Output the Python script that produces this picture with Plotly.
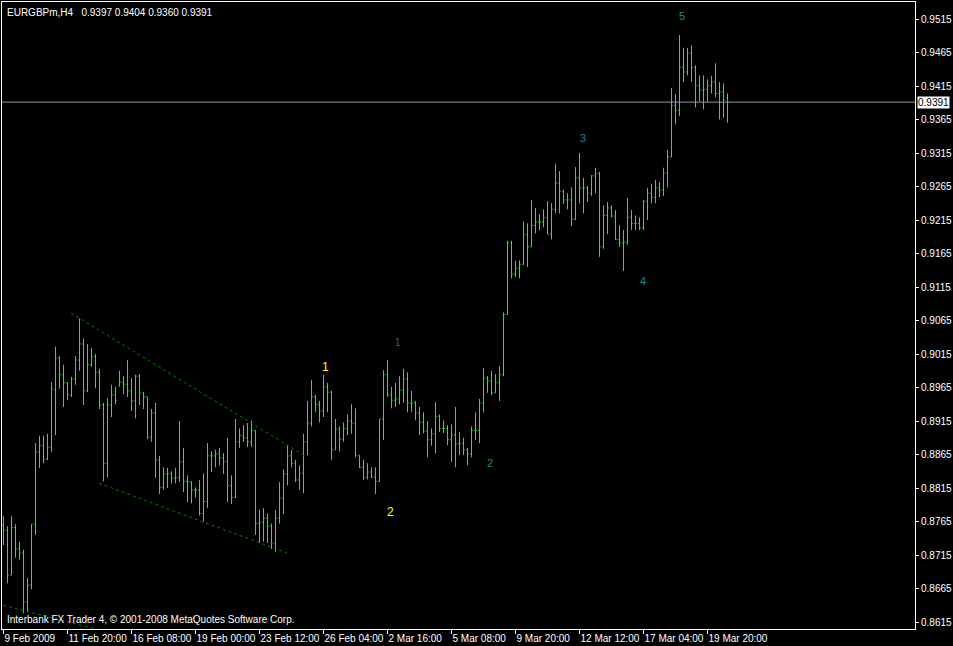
import plotly.graph_objects as go

# ---------------- data (EURGBPm, H4 bars, index 0 = 9 Feb 2009 00:00) ----------------
opens = [0.8760, 0.8752, 0.8685, 0.8756, 0.8724, 0.8718, 0.8645, 0.8670, 0.8761, 0.8869,
         0.8878, 0.8858, 0.8876, 0.8961, 0.9009, 0.8984, 0.8972, 0.8954, 0.8978, 0.9006,
         0.9030, 0.8960, 0.8999, 0.9011, 0.8988, 0.8939, 0.8852, 0.8939, 0.8954, 0.8967,
         0.8973, 0.8970, 0.8960, 0.8945, 0.8982, 0.8957, 0.8951, 0.8891, 0.8927, 0.8857,
         0.8816, 0.8836, 0.8837, 0.8830, 0.8831, 0.8854, 0.8825, 0.8824, 0.8812, 0.8812,
         0.8777, 0.8795, 0.8863, 0.8863, 0.8866, 0.8860, 0.8855, 0.8819, 0.8801, 0.8884,
         0.8893, 0.8890, 0.8884, 0.8901, 0.8762, 0.8764, 0.8770, 0.8758, 0.8733, 0.8770,
         0.8800, 0.8836, 0.8863, 0.8852, 0.8827, 0.8837, 0.8884, 0.8912, 0.8951, 0.8940,
         0.8930, 0.8966, 0.8958, 0.8872, 0.8903, 0.8888, 0.8904, 0.8915, 0.8912, 0.8864,
         0.8846, 0.8831, 0.8839, 0.8831, 0.8825, 0.8918, 0.8984, 0.8954, 0.8946, 0.8948,
         0.8961, 0.8978, 0.8942, 0.8942, 0.8927, 0.8913, 0.8900, 0.8887, 0.8896, 0.8922,
         0.8904, 0.8904, 0.8887, 0.8894, 0.8881, 0.8882, 0.8872, 0.8866, 0.8901, 0.8901,
         0.8942, 0.8979, 0.8975, 0.8957, 0.8972, 0.8984, 0.9074, 0.9181, 0.9134, 0.9143,
         0.9149, 0.9193, 0.9175, 0.9207, 0.9212, 0.9212, 0.9219, 0.9194, 0.9231, 0.9270,
         0.9258, 0.9245, 0.9245, 0.9216, 0.9278, 0.9263, 0.9263, 0.9255, 0.9281, 0.9284,
         0.9175, 0.9222, 0.9233, 0.9221, 0.9186, 0.9181, 0.9182, 0.9219, 0.9210, 0.9210,
         0.9203, 0.9243, 0.9255, 0.9249, 0.9263, 0.9260, 0.9285, 0.9309, 0.9386, 0.9379,
         0.9443, 0.9436, 0.9464, 0.9443, 0.9416, 0.9409, 0.9410, 0.9416, 0.9421, 0.9404,
         0.9406, 0.9397]

highs = [0.8773, 0.8758, 0.8773, 0.8761, 0.8735, 0.8723, 0.8681, 0.8761, 0.8882, 0.8893,
         0.8893, 0.8896, 0.8973, 0.9026, 0.9012, 0.8999, 0.8973, 0.8981, 0.9012, 0.9068,
         0.9038, 0.9030, 0.9024, 0.9015, 0.8993, 0.8942, 0.8949, 0.8969, 0.8966, 0.8990,
         0.8982, 0.9006, 0.8979, 0.8984, 0.8985, 0.8958, 0.8951, 0.8933, 0.8942, 0.8863,
         0.8846, 0.8845, 0.8840, 0.8845, 0.8915, 0.8875, 0.8834, 0.8825, 0.8816, 0.8827,
         0.8837, 0.8882, 0.8870, 0.8872, 0.8875, 0.8867, 0.8890, 0.8834, 0.8918, 0.8904,
         0.8909, 0.8912, 0.8916, 0.8901, 0.8783, 0.8785, 0.8777, 0.8762, 0.8782, 0.8824,
         0.8843, 0.8879, 0.8872, 0.8857, 0.8849, 0.8896, 0.8945, 0.8976, 0.8954, 0.8945,
         0.8984, 0.8972, 0.8960, 0.8918, 0.8907, 0.8913, 0.8925, 0.8940, 0.8934, 0.8864,
         0.8857, 0.8852, 0.8846, 0.8846, 0.8918, 0.8991, 0.9006, 0.8966, 0.8972, 0.8982,
         0.8993, 0.8988, 0.8960, 0.8945, 0.8936, 0.8928, 0.8915, 0.8904, 0.8943, 0.8925,
         0.8916, 0.8909, 0.8910, 0.8936, 0.8899, 0.8890, 0.8875, 0.8907, 0.8928, 0.8948,
         0.8994, 0.8982, 0.8990, 0.8985, 0.8997, 0.9077, 0.9184, 0.9184, 0.9154, 0.9155,
         0.9213, 0.9210, 0.9245, 0.9233, 0.9224, 0.9231, 0.9243, 0.9240, 0.9299, 0.9288,
         0.9260, 0.9255, 0.9264, 0.9294, 0.9315, 0.9278, 0.9266, 0.9282, 0.9293, 0.9287,
         0.9237, 0.9242, 0.9237, 0.9230, 0.9207, 0.9200, 0.9248, 0.9230, 0.9222, 0.9219,
         0.9245, 0.9263, 0.9269, 0.9275, 0.9272, 0.9293, 0.9320, 0.9412, 0.9403, 0.9491,
         0.9472, 0.9472, 0.9476, 0.9446, 0.9431, 0.9431, 0.9425, 0.9430, 0.9449, 0.9421,
         0.9419, 0.9404]

lows = [0.8730, 0.8673, 0.8685, 0.8711, 0.8708, 0.8628, 0.8630, 0.8664, 0.8745, 0.8845,
        0.8852, 0.8857, 0.8869, 0.8894, 0.8963, 0.8936, 0.8946, 0.8951, 0.8969, 0.8990,
        0.8939, 0.8958, 0.8996, 0.8964, 0.8933, 0.8825, 0.8831, 0.8921, 0.8940, 0.8967,
        0.8955, 0.8951, 0.8930, 0.8919, 0.8939, 0.8933, 0.8888, 0.8884, 0.8830, 0.8806,
        0.8813, 0.8815, 0.8822, 0.8822, 0.8824, 0.8809, 0.8794, 0.8792, 0.8801, 0.8774,
        0.8765, 0.8785, 0.8839, 0.8846, 0.8849, 0.8836, 0.8794, 0.8791, 0.8800, 0.8875,
        0.8884, 0.8876, 0.8876, 0.8745, 0.8733, 0.8735, 0.8733, 0.8724, 0.8720, 0.8762,
        0.8776, 0.8819, 0.8846, 0.8824, 0.8812, 0.8807, 0.8864, 0.8907, 0.8928, 0.8913,
        0.8921, 0.8928, 0.8857, 0.8872, 0.8870, 0.8884, 0.8894, 0.8896, 0.8861, 0.8845,
        0.8827, 0.8828, 0.8830, 0.8806, 0.8824, 0.8887, 0.8951, 0.8934, 0.8936, 0.8940,
        0.8942, 0.8928, 0.8928, 0.8916, 0.8894, 0.8897, 0.8861, 0.8878, 0.8867, 0.8899,
        0.8897, 0.8879, 0.8854, 0.8846, 0.8864, 0.8864, 0.8849, 0.8861, 0.8887, 0.8882,
        0.8928, 0.8957, 0.8954, 0.8957, 0.8945, 0.8982, 0.9074, 0.9128, 0.9130, 0.9128,
        0.9148, 0.9145, 0.9175, 0.9195, 0.9200, 0.9204, 0.9194, 0.9186, 0.9225, 0.9225,
        0.9239, 0.9231, 0.9206, 0.9215, 0.9240, 0.9225, 0.9242, 0.9251, 0.9255, 0.9160,
        0.9172, 0.9194, 0.9219, 0.9185, 0.9175, 0.9139, 0.9178, 0.9200, 0.9200, 0.9200,
        0.9200, 0.9215, 0.9240, 0.9240, 0.9249, 0.9251, 0.9264, 0.9309, 0.9358, 0.9370,
        0.9421, 0.9431, 0.9421, 0.9383, 0.9392, 0.9380, 0.9392, 0.9404, 0.9398, 0.9365,
        0.9368, 0.9360]

closes = [0.8752, 0.8685, 0.8756, 0.8724, 0.8718, 0.8645, 0.8670, 0.8761, 0.8869, 0.8879,
          0.8858, 0.8876, 0.8963, 0.9009, 0.8984, 0.8972, 0.8954, 0.8978, 0.9006, 0.9030,
          0.8960, 0.8999, 0.9011, 0.8988, 0.8939, 0.8852, 0.8939, 0.8954, 0.8946, 0.8973,
          0.8970, 0.8960, 0.8945, 0.8982, 0.8957, 0.8951, 0.8891, 0.8927, 0.8857, 0.8816,
          0.8836, 0.8837, 0.8830, 0.8831, 0.8854, 0.8825, 0.8824, 0.8812, 0.8812, 0.8777,
          0.8795, 0.8863, 0.8863, 0.8866, 0.8860, 0.8855, 0.8819, 0.8801, 0.8884, 0.8893,
          0.8890, 0.8884, 0.8901, 0.8762, 0.8764, 0.8770, 0.8758, 0.8733, 0.8770, 0.8800,
          0.8836, 0.8863, 0.8852, 0.8827, 0.8837, 0.8884, 0.8912, 0.8951, 0.8940, 0.8930,
          0.8966, 0.8958, 0.8872, 0.8903, 0.8888, 0.8904, 0.8915, 0.8912, 0.8864, 0.8846,
          0.8831, 0.8839, 0.8831, 0.8825, 0.8918, 0.8984, 0.8954, 0.8946, 0.8948, 0.8961,
          0.8978, 0.8942, 0.8942, 0.8927, 0.8913, 0.8900, 0.8887, 0.8896, 0.8922, 0.8904,
          0.8904, 0.8887, 0.8894, 0.8881, 0.8882, 0.8872, 0.8866, 0.8901, 0.8901, 0.8942,
          0.8979, 0.8975, 0.8957, 0.8972, 0.8984, 0.9074, 0.9181, 0.9134, 0.9143, 0.9149,
          0.9193, 0.9175, 0.9207, 0.9212, 0.9212, 0.9219, 0.9194, 0.9231, 0.9270, 0.9258,
          0.9245, 0.9245, 0.9216, 0.9278, 0.9263, 0.9263, 0.9255, 0.9281, 0.9284, 0.9175,
          0.9222, 0.9233, 0.9221, 0.9186, 0.9181, 0.9182, 0.9219, 0.9210, 0.9210, 0.9203,
          0.9243, 0.9255, 0.9249, 0.9263, 0.9260, 0.9285, 0.9309, 0.9386, 0.9379, 0.9443,
          0.9436, 0.9464, 0.9443, 0.9416, 0.9409, 0.9410, 0.9416, 0.9421, 0.9404, 0.9406,
          0.9394, 0.9391]

bar_index = list(range(len(closes)))

time_tick_bars = [0, 16, 32, 48, 64, 80, 96, 112, 128, 144, 160, 176]
time_tick_labels = ["9 Feb 2009", "11 Feb 20:00", "16 Feb 08:00", "19 Feb 00:00",
                    "23 Feb 12:00", "26 Feb 04:00", "2 Mar 16:00", "5 Mar 08:00",
                    "9 Mar 20:00", "12 Mar 12:00", "17 Mar 04:00", "19 Mar 20:00"]

price_ticks = [0.8615, 0.8665, 0.8715, 0.8765, 0.8815, 0.8865, 0.8915, 0.8965, 0.9015,
               0.9065, 0.9115, 0.9165, 0.9215, 0.9265, 0.9315, 0.9365, 0.9415, 0.9465,
               0.9515]
price_tick_labels = ["0.8615", "0.8665", "0.8715", "0.8765", "0.8815", "0.8865", "0.8915",
                     "0.8965", "0.9015", "0.9065", "0.9115", "0.9165", "0.9215", "0.9265",
                     "0.9315", "0.9365", "0.9415", "0.9465", "0.9515"]

bid_price = 0.9391
symbol_title = "EURGBPm,H4\u00a0\u00a0 0.9397 0.9404 0.9360 0.9391"
copyright_text = "Interbank FX Trader 4, \u00a9 2001-2008 MetaQuotes Software Corp."

# trend lines: (bar0, price0, bar1, price1)
trend_lines = [(16.9, 0.9076, 75.9, 0.8861),
               (23.9, 0.8822, 70.9, 0.8718),
               (-0.1, 0.8640, 23.4, 0.8604)]

# wave labels: (text, bar, price, colour, size)
wave_labels = [("1", 80.6, 0.8996, "#FFFF00", 12),
               ("2", 96.85, 0.8779, "#FFFF00", 12),
               ("1", 98.7, 0.9032, "#2E6468", 10),
               ("2", 121.7, 0.8852, "#168A94", 11),
               ("3", 144.75, 0.9338, "#168A94", 11),
               ("4", 159.85, 0.9124, "#168A94", 11),
               ("5", 169.7, 0.9520, "#168A94", 11)]

# ---------------- figure ----------------
FONT = "Liberation Sans, Arial, sans-serif"
BAR = "#1EF01E"

fig = go.Figure()
fig.add_trace(go.Ohlc(
    x=bar_index, open=opens, high=highs, low=lows, close=closes,
    increasing=dict(line=dict(color=BAR, width=1)),
    decreasing=dict(line=dict(color=BAR, width=1)),
    tickwidth=0.3, hoverinfo="skip", showlegend=False))

shapes = [dict(type="line", xref="paper", x0=0, x1=1, yref="y", y0=bid_price, y1=bid_price,
               line=dict(color="#8899AA", width=1), layer="above")]
for (xa, ya, xb, yb) in trend_lines:
    shapes.append(dict(type="line", xref="x", yref="y", x0=xa, y0=ya, x1=xb, y1=yb,
                       line=dict(color="#008000", width=1, dash="3px,3px"), layer="above"))

annotations = [
    dict(text=symbol_title, xref="paper", yref="paper", x=0, y=1, xanchor="left",
         yanchor="top", xshift=3, yshift=-3, showarrow=False,
         font=dict(family=FONT, size=10, color="white")),
    dict(text=copyright_text, xref="paper", yref="paper", x=0, y=0, xanchor="left",
         yanchor="bottom", xshift=3, yshift=2, showarrow=False,
         font=dict(family=FONT, size=10, color="white")),
    dict(text=f"{bid_price:.4f}", xref="paper", yref="y", x=1, y=bid_price, xanchor="left",
         yanchor="middle", xshift=2, showarrow=False, bgcolor="white", borderpad=0,
         font=dict(family=FONT, size=10, color="black")),
]
for (t, xb, yp, col, sz) in wave_labels:
    annotations.append(dict(text=t, xref="x", yref="y", x=xb, y=yp, showarrow=False,
                            font=dict(family=FONT, size=sz, color=col)))

fig.update_layout(
    width=953, height=646,
    margin=dict(l=2, r=38, t=2, b=17, autoexpand=False),
    paper_bgcolor="black", plot_bgcolor="black",
    font=dict(family=FONT, size=10, color="white"),
    shapes=shapes, annotations=annotations,
    xaxis=dict(range=[-0.375, 227.875], tickvals=time_tick_bars, ticktext=time_tick_labels,
               ticks="outside", ticklen=4, tickcolor="white", ticklabelposition="outside right",
               tickangle=0, showgrid=False, zeroline=False, showline=True, linecolor="white",
               linewidth=1, mirror=True, rangeslider=dict(visible=False),
               tickfont=dict(family=FONT, size=10, color="white"), fixedrange=True),
    yaxis=dict(range=[0.86046, 0.95404], side="right", tickvals=price_ticks,
               ticktext=price_tick_labels, ticks="outside", ticklen=3, tickcolor="white",
               showgrid=False, zeroline=False, showline=True, linecolor="white", linewidth=1,
               mirror=True, tickfont=dict(family=FONT, size=10, color="white"),
               fixedrange=True),
)

fig.write_html("out.html", config={"displayModeBar": False},
               post_script="document.body.style.margin='0';document.body.style.background='black';")
